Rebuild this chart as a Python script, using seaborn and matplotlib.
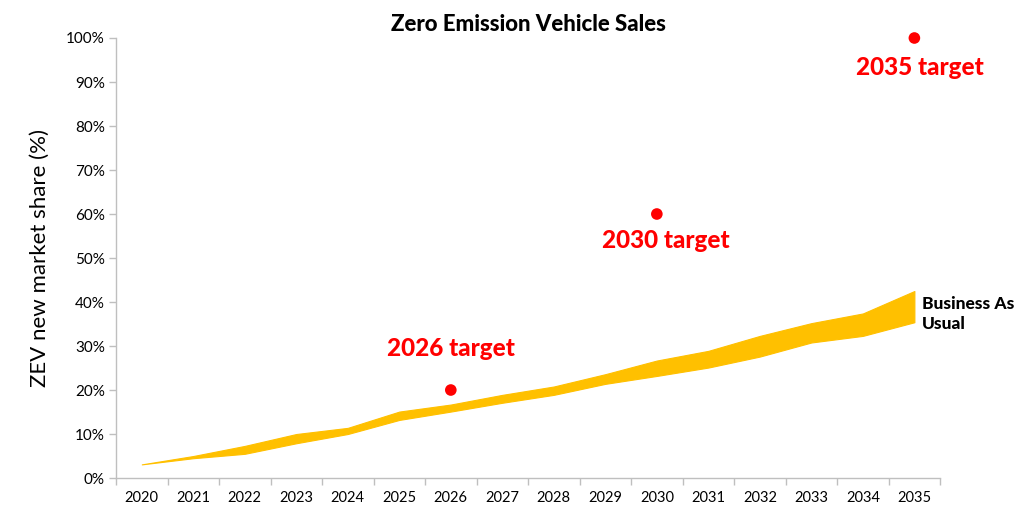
import numpy as np
import pandas as pd
import matplotlib.pyplot as plt
import seaborn as sns

# Datos
anios = list(range(2020, 2036))
bau_bajo = [3.1, 4.5, 5.5, 7.9, 10.0, 13.2, 15.1, 17.1, 18.9, 21.4, 23.2, 25.1, 27.6, 30.8, 32.3, 35.4]
bau_alto = [3.1, 5.0, 7.3, 10.0, 11.4, 15.1, 16.7, 18.9, 20.8, 23.6, 26.7, 28.9, 32.3, 35.2, 37.4, 42.5]
meta_anios = [2026, 2030, 2035]
meta_valores = [20, 60, 100]
meta_textos = ["2026 target", "2030 target", "2035 target"]

sns.set_theme(style="white")
plt.rcParams['font.family'] = ['Lato', 'DejaVu Sans']
plt.rcParams['text.color'] = 'black'
plt.rcParams['axes.labelcolor'] = 'black'
plt.rcParams['xtick.color'] = 'black'
plt.rcParams['ytick.color'] = 'black'

gris = "#BFBFBF"
oro = "#FFC000"
rojo = "#FF0000"

fig, ax = plt.subplots(figsize=(10.23, 5.17), dpi=100)
fig.subplots_adjust(left=0.1134, right=0.919, top=0.9265, bottom=0.0754)

# Banda "Business As Usual"
ax.fill_between(anios, bau_bajo, bau_alto, color=oro, linewidth=0.8, edgecolor=oro)

# Metas
df_meta = pd.DataFrame({"Año": meta_anios, "Valor": meta_valores})
sns.scatterplot(data=df_meta, x="Año", y="Valor", color=rojo, s=70, edgecolor="none",
                ax=ax, zorder=3, clip_on=False)

# Etiquetas de metas
pos_textos = [(2026, 29.5), (2030.17, 53.9), (2035.1, 93.4)]
for (x, y), t in zip(pos_textos, meta_textos):
    ax.text(x, y, t, color=rojo, fontsize=17.5, fontweight="black", ha="center", va="center")

ax.text(2035.15, 37.3, "Business As\nUsual", color="black", fontsize=12.5, fontweight="black",
        ha="left", va="center", linespacing=1.3)

# Ejes
ax.set_xlim(2019.5, 2035.5)
ax.set_ylim(0, 100)
ax.set_xticks(anios)
ax.set_xticklabels([str(a) for a in anios])
ax.set_xticks([a - 0.5 for a in anios] + [2035.5], minor=True)
ax.set_yticks(range(0, 101, 10))
ax.set_yticklabels([f"{v}%" for v in range(0, 101, 10)])
ax.tick_params(axis="x", which="major", length=0, pad=9, labelsize=10.5, labelcolor="black")
ax.tick_params(axis="x", which="minor", length=5, color=gris, width=1, bottom=True)
ax.tick_params(axis="y", length=5, color=gris, width=1, left=True, labelsize=11, pad=3,
               labelcolor="black")

for s in ["top", "right"]:
    ax.spines[s].set_visible(False)
for s in ["left", "bottom"]:
    ax.spines[s].set_color(gris)
    ax.spines[s].set_linewidth(1)

ax.set_xlabel("")
ax.set_ylabel("ZEV new market share (%)", fontsize=16, labelpad=12, color="black")
ax.set_title("Zero Emission Vehicle Sales", fontsize=16, fontweight="black", pad=5, color="black")
ax.grid(False)

fig.savefig("out.png", dpi=100)
